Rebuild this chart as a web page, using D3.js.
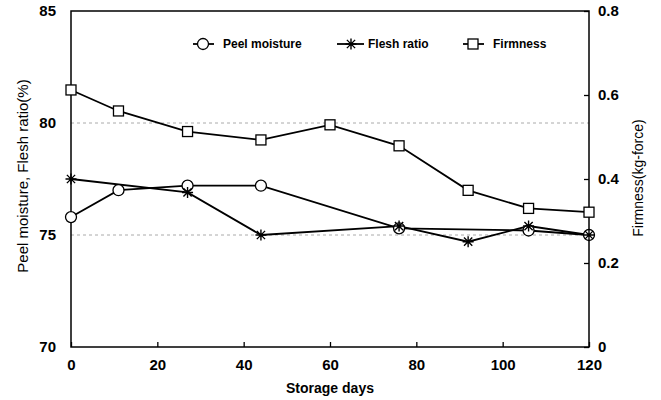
<!DOCTYPE html>
<html>
<head>
<meta charset="utf-8">
<script src="https://cdn.jsdelivr.net/npm/d3@7"></script>
<style>
body { margin: 0; background: #fff; }
text { font-family: "Liberation Sans", Arial, sans-serif; }
</style>
</head>
<body>
<div id="chart"></div>
<script>
// data
var peelDays = [0, 11, 27, 44, 76, 106, 120];
var peelMoisture = [75.8, 77.0, 77.2, 77.2, 75.3, 75.2, 75.0];

var fleshDays = [0, 27, 44, 76, 92, 106, 120];
var fleshRatio = [77.5, 76.9, 75.0, 75.4, 74.7, 75.4, 75.0];

var firmDays = [0, 11, 27, 44, 60, 76, 92, 106, 120];
var firmness = [0.612, 0.562, 0.513, 0.493, 0.529, 0.479, 0.373, 0.330, 0.321];

var xTicks = [0, 20, 40, 60, 80, 100, 120];
var leftTicks = [70, 75, 80, 85];
var rightTicks = [0, 0.2, 0.4, 0.6, 0.8];
var gridVals = [75, 80];
var legendNames = ["Peel moisture", "Flesh ratio", "Firmness"];

var W = 661, H = 400;
var plotL = 71, plotR = 589, plotT = 11, plotB = 347;

var svg = d3.select('#chart').append('svg')
    .attr('width', W)
    .attr('height', H);

svg.append('rect').attr('width', W).attr('height', H).attr('fill', 'white');

var x = d3.scaleLinear().domain([0, 120]).range([plotL, plotR]);
var yL = d3.scaleLinear().domain([70, 85]).range([plotB, plotT]);
var yR = d3.scaleLinear().domain([0, 0.8]).range([plotB, plotT]);

// dotted grid lines
svg.append('g').selectAll('line')
    .data(gridVals)
    .enter().append('line')
    .attr('x1', plotL).attr('x2', plotR)
    .attr('y1', function (d) { return yL(d); })
    .attr('y2', function (d) { return yL(d); })
    .style('stroke', '#aaa')
    .style('stroke-width', 1)
    .style('stroke-dasharray', '3,3');

// frame
svg.append('rect')
    .attr('x', plotL).attr('y', plotT)
    .attr('width', plotR - plotL).attr('height', plotB - plotT)
    .attr('fill', 'none').attr('stroke', '#000').attr('stroke-width', 1.5);

// axes
var bAxis = svg.append('g').attr('transform', 'translate(0,' + plotB + ')')
    .call(d3.axisBottom(x).tickValues(xTicks).tickSizeInner(-5).tickSizeOuter(0).tickPadding(12));
var lAxis = svg.append('g').attr('transform', 'translate(' + plotL + ',0)')
    .call(d3.axisLeft(yL).tickValues(leftTicks).tickSizeInner(0).tickSizeOuter(0).tickPadding(15));
var rAxis = svg.append('g').attr('transform', 'translate(' + plotR + ',0)')
    .call(d3.axisRight(yR).tickValues(rightTicks).tickFormat(function (d) { return d === 0 ? '0' : d3.format('.1f')(d); })
        .tickSizeInner(-5).tickSizeOuter(0).tickPadding(9));

[bAxis, lAxis, rAxis].forEach(function (a) {
    a.select('.domain').remove();
    a.selectAll('line').attr('stroke', '#000').attr('stroke-width', 1.3);
    a.selectAll('text').attr('font-size', 15).attr('font-weight', 'bold').attr('fill', '#000')
        .style('font-family', '"Liberation Sans", Arial, sans-serif');
});

// axis titles
svg.append('text')
    .attr('x', 330).attr('y', 393)
    .attr('text-anchor', 'middle')
    .attr('font-size', 14).attr('font-weight', 'bold')
    .text('Storage days');

svg.append('text')
    .attr('transform', 'translate(28,176) rotate(-90)')
    .attr('text-anchor', 'middle')
    .attr('font-size', 15)
    .text('Peel moisture, Flesh ratio(%)');

svg.append('text')
    .attr('transform', 'translate(643,178) rotate(-90)')
    .attr('text-anchor', 'middle')
    .attr('font-size', 14)
    .text('Firmness(kg-force)');

// lines
function drawLine(days, vals, scale) {
    var line = d3.line()
        .x(function (d, i) { return x(days[i]); })
        .y(function (d) { return scale(d); });
    svg.append('path')
        .datum(vals)
        .attr('d', line)
        .attr('fill', 'none')
        .attr('stroke', '#000')
        .attr('stroke-width', 1.8);
}

function circleMark(g) {
    g.append('circle').attr('r', 5.5).attr('fill', 'white').attr('stroke', '#000').attr('stroke-width', 1.3);
}
function squareMark(g) {
    g.append('rect').attr('x', -5).attr('y', -5).attr('width', 10).attr('height', 10)
        .attr('fill', 'white').attr('stroke', '#000').attr('stroke-width', 1.3);
}
function starMark(g) {
    var s = 5.5;
    g.append('path')
        .attr('d', 'M' + (-s) + ',0L' + s + ',0M0,' + (-s) + 'L0,' + s +
            'M' + (-s * 0.75) + ',' + (-s * 0.75) + 'L' + (s * 0.75) + ',' + (s * 0.75) +
            'M' + (-s * 0.75) + ',' + (s * 0.75) + 'L' + (s * 0.75) + ',' + (-s * 0.75))
        .attr('stroke', '#000').attr('stroke-width', 1.4).attr('fill', 'none');
}

function drawMarks(days, vals, scale, mark) {
    svg.append('g').selectAll('g')
        .data(vals)
        .enter().append('g')
        .attr('transform', function (d, i) { return 'translate(' + x(days[i]) + ',' + scale(d) + ')'; })
        .each(function () { mark(d3.select(this)); });
}

drawLine(firmDays, firmness, yR);
drawLine(peelDays, peelMoisture, yL);
drawLine(fleshDays, fleshRatio, yL);
drawMarks(firmDays, firmness, yR, squareMark);
drawMarks(peelDays, peelMoisture, yL, circleMark);
drawMarks(fleshDays, fleshRatio, yL, starMark);

// legend
var legendX = [193, 337, 463];
var legendMarks = [circleMark, starMark, squareMark];
var leg = svg.append('g').selectAll('g')
    .data(legendNames)
    .enter().append('g')
    .attr('transform', function (d, i) { return 'translate(' + legendX[i] + ',44)'; });

leg.append('line')
    .attr('x1', 0).attr('x2', function (d, i) { return i === 1 ? 27 : 21; })
    .attr('y1', 0).attr('y2', 0)
    .attr('stroke', '#000').attr('stroke-width', 1.8);
leg.each(function (d, i) {
    var g = d3.select(this).append('g').attr('transform', 'translate(' + (i === 1 ? 14 : 10) + ',0)');
    legendMarks[i](g);
});
leg.append('text')
    .attr('x', function (d, i) { return i === 1 ? 31 : 30; })
    .attr('y', 4)
    .attr('font-size', 12).attr('font-weight', 'bold')
    .text(function (d) { return d; });
</script>
</body>
</html>
